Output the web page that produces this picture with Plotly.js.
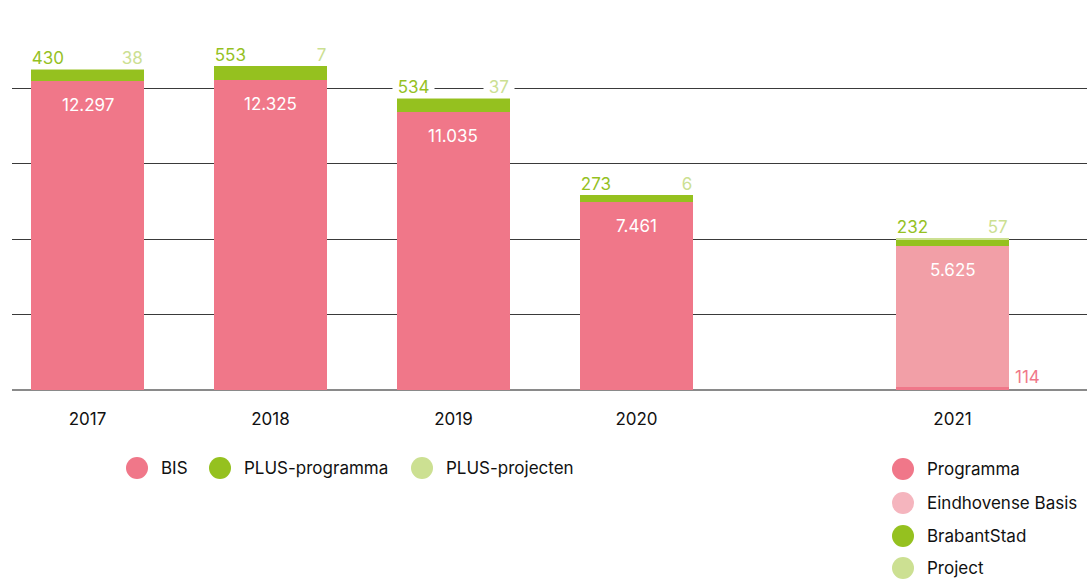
<!DOCTYPE html>
<html>
<head>
<meta charset="utf-8">
<script src="https://cdn.plot.ly/plotly-3.0.1.min.js"></script>
<style>html,body{margin:0;padding:0;background:#fff;}#chart{width:1087px;height:583px;}</style>
</head>
<body>
<div id="chart"></div>
<script>
// ---- data ----
const years = ['2017', '2018', '2019', '2020', '2021'];
const bis = [12297, 12325, 11035, 7461, null];
const plusProgramma = [430, 553, 534, 273, null];
const plusProjecten = [38, 7, 37, 6, null];
const programma = [null, null, null, null, 114];
const eindhovenseBasis = [null, null, null, null, 5625];
const brabantStad = [null, null, null, null, 232];
const project = [null, null, null, null, 57];

// ---- layout constants ----
const xPos = [0, 1, 2, 3, 4.727];
const barW = 0.617;
const FONT = 'Inter, "Open Sans", sans-serif';
const C = {
  pink: '#F07789', lightPink: '#F29FA7', lightPinkLegend: '#F5B5BE',
  green: '#95C11F', lightGreen: '#CCE092', text: '#111111'
};

function bar(name, y, color) {
  return {type: 'bar', name: name, x: xPos, y: y, width: barW,
    marker: {color: color, line: {width: 0}}, showlegend: false, hoverinfo: 'skip'};
}
const traces = [
  bar('BIS', bis, C.pink),
  bar('Programma', programma, C.pink),
  bar('Eindhovense Basis', eindhovenseBasis, C.lightPink),
  bar('PLUS-programma', plusProgramma, C.green),
  bar('BrabantStad', brabantStad, C.green),
  bar('PLUS-projecten', plusProjecten, C.lightGreen),
  bar('Project', project, C.lightGreen)
];

const fmt = v => v >= 1000 ? Math.floor(v / 1000) + '.' + String(v % 1000).padStart(3, '0') : String(v);
const NB = '\u00a0';
const annotations = [];
years.forEach((yr, i) => {
  const base = bis[i] != null ? bis[i] : (programma[i] || 0) + (eindhovenseBasis[i] || 0);
  const main = bis[i] != null ? bis[i] : eindhovenseBasis[i];
  const g = plusProgramma[i] != null ? plusProgramma[i] : brabantStad[i];
  const lg = plusProjecten[i] != null ? plusProjecten[i] : project[i];
  const total = base + g + lg;
  const left = xPos[i] - barW / 2, right = xPos[i] + barW / 2;
  annotations.push({x: left, y: total, xref: 'x', yref: 'y', xanchor: 'left', yanchor: 'middle',
    text: NB + fmt(g) + NB, showarrow: false, yshift: 11, xshift: -5, bgcolor: '#fff', borderpad: 0,
    font: {family: FONT, size: 17, color: C.green}});
  annotations.push({x: right, y: total, xref: 'x', yref: 'y', xanchor: 'right', yanchor: 'middle',
    text: NB + fmt(lg) + NB, showarrow: false, yshift: 11, xshift: 5, bgcolor: '#fff', borderpad: 0,
    font: {family: FONT, size: 17, color: C.lightGreen}});
  annotations.push({x: xPos[i], y: base, xref: 'x', yref: 'y', xanchor: 'center', yanchor: 'top',
    text: fmt(main), showarrow: false, yshift: -12,
    font: {family: FONT, size: 17, color: '#ffffff'}});
  if (programma[i] != null) {
    annotations.push({x: right, y: 0, xref: 'x', yref: 'y', xanchor: 'left', yanchor: 'bottom',
      text: fmt(programma[i]), showarrow: false, xshift: 4, yshift: 1,
      font: {family: FONT, size: 17, color: C.pink}});
  }
});

// ---- legends (drawn as circles + text, positions in page pixels) ----
const W = 1087, H = 583, R = 11;
const M = {l: 12, r: 0, t: 12, b: 193};
const PW = W - M.l - M.r, PH = H - M.t - M.b;
const px = x => (x - M.l) / PW, py = y => (H - M.b - y) / PH;
const legend1 = [['BIS', C.pink, 137], ['PLUS-programma', C.green, 220], ['PLUS-projecten', C.lightGreen, 422]];
const legend2 = [['Programma', C.pink, 469], ['Eindhovense Basis', C.lightPinkLegend, 503], ['BrabantStad', C.green, 536], ['Project', C.lightGreen, 568]];
const shapes = [];
function legendItem(label, color, cx, cy) {
  shapes.push({type: 'circle', xref: 'paper', yref: 'paper', x0: px(cx - R), x1: px(cx + R),
    y0: py(cy + R), y1: py(cy - R), fillcolor: color, line: {width: 0}, layer: 'above'});
  annotations.push({xref: 'paper', yref: 'paper', x: px(cx + 22), y: py(cy), xanchor: 'left', yanchor: 'middle',
    text: label, showarrow: false, font: {family: FONT, size: 17, color: C.text}});
}
legend1.forEach(([l, c, x]) => legendItem(l, c, x, 468));
legend2.forEach(([l, c, y]) => legendItem(l, c, 903, y));

const layout = {
  width: W, height: H,
  margin: M,
  paper_bgcolor: '#fff', plot_bgcolor: '#fff',
  barmode: 'stack', showlegend: false, hovermode: false,
  xaxis: {range: [-0.4126, 5.462], tickvals: xPos, ticktext: years, showgrid: false, zeroline: false,
    showline: false, ticks: 'outside', ticklen: 14, tickcolor: 'rgba(0,0,0,0)',
    tickfont: {family: FONT, size: 17, color: C.text}, fixedrange: true},
  yaxis: {range: [0, 15020], dtick: 3000, tick0: 0, showticklabels: false, ticks: '',
    showgrid: true, gridcolor: '#3a3a3a', gridwidth: 1, zeroline: true, zerolinecolor: '#8a8a8a',
    zerolinewidth: 2, showline: false, fixedrange: true},
  annotations: annotations, shapes: shapes
};
Plotly.newPlot('chart', traces, layout, {displayModeBar: false, staticPlot: true});
</script>
</body>
</html>
